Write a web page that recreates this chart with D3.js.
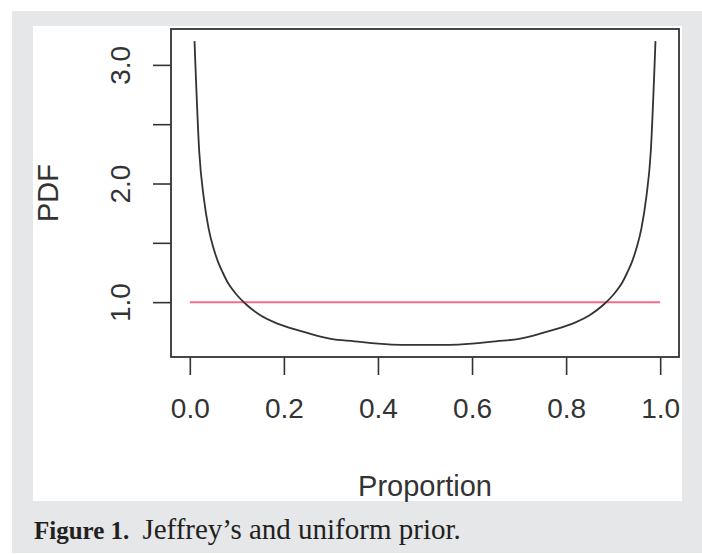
<!DOCTYPE html>
<html>
<head>
<meta charset="utf-8">
<script src="https://cdn.jsdelivr.net/npm/d3@7"></script>
<style>
    body { margin: 0; background: #fff; }
    svg { display: block; }
    .tick text { font-family: "Liberation Sans", Arial, sans-serif; }
</style>
</head>
<body>
<div id="chart"></div>
<script>
// values
let jeffreyX = [0.01, 0.02, 0.03, 0.04, 0.05, 0.06, 0.07, 0.08, 0.09, 0.10, 0.12, 0.15, 0.18, 0.20,
    0.25, 0.30, 0.35, 0.40, 0.45, 0.50, 0.55, 0.60, 0.65, 0.70, 0.75, 0.80, 0.82, 0.85, 0.88,
    0.90, 0.91, 0.92, 0.93, 0.94, 0.95, 0.96, 0.97, 0.98, 0.99];
let jeffreyY = [3.20, 2.27, 1.87, 1.62, 1.46, 1.34, 1.25, 1.17, 1.11, 1.06, 0.98, 0.89, 0.83, 0.80,
    0.74, 0.69, 0.67, 0.65, 0.64, 0.64, 0.64, 0.65, 0.67, 0.69, 0.74, 0.80, 0.83, 0.89, 0.98,
    1.06, 1.11, 1.17, 1.25, 1.34, 1.46, 1.62, 1.87, 2.27, 3.20];
let uniformX = [0, 1];
let uniformY = [1, 1];

let xTicks = [0, 0.2, 0.4, 0.6, 0.8, 1.0];
let yTicks = [1.0, 1.5, 2.0, 2.5, 3.0];
let yLabelled = [1.0, 2.0, 3.0];

let xLabel = "Proportion";
let yLabel = "PDF";
let captionBold = "Figure 1.";
let captionText = "Jeffrey\u2019s and uniform prior.";

let svgwidth = 702;
let svgheight = 554;

// plot box, R style
let box = { left: 171, top: 29, right: 679, bottom: 357 };

let svg = d3.select("#chart")
    .append("svg")
    .attr("width", svgwidth)
    .attr("height", svgheight);

// grey figure frame and white panel
svg.append("rect")
    .attr("x", 12).attr("y", 11)
    .attr("width", svgwidth - 12).attr("height", 542)
    .attr("fill", "#e6e7e9");

svg.append("rect")
    .attr("x", 33).attr("y", 26)
    .attr("width", 649).attr("height", 475)
    .attr("fill", "#ffffff");

// R pads the data range by 4% on each side
function padded(lo, hi) {
    let d = (hi - lo) * 0.04;
    return [lo - d, hi + d];
}

let allX = jeffreyX.concat(uniformX);
let allY = jeffreyY.concat(uniformY);

let xScale = d3.scaleLinear()
    .domain(padded(d3.min(allX), d3.max(allX)))
    .range([box.left, box.right]);

let yScale = d3.scaleLinear()
    .domain(padded(d3.min(allY), d3.max(allY)))
    .range([box.bottom, box.top]);

let ink = "#333";

// x axis
let xAxis = svg.append("g")
    .attr("transform", `translate(0, ${box.bottom})`)
    .call(d3.axisBottom(xScale)
        .tickValues(xTicks)
        .tickSize(18)
        .tickPadding(23)
        .tickFormat(d3.format(".1f")));

xAxis.select(".domain").remove();
xAxis.selectAll("line").attr("stroke", ink).attr("stroke-width", 1.6);
xAxis.selectAll("text")
    .attr("fill", "#333")
    .attr("font-size", 28);

// y axis
let yAxis = svg.append("g")
    .attr("transform", `translate(${box.left}, 0)`)
    .call(d3.axisLeft(yScale)
        .tickValues(yTicks)
        .tickSize(18)
        .tickFormat(d => yLabelled.includes(d) ? d3.format(".1f")(d) : ""));

yAxis.select(".domain").remove();
yAxis.selectAll("line").attr("stroke", ink).attr("stroke-width", 1.6);
yAxis.selectAll("text")
    .attr("fill", "#333")
    .attr("font-size", 28)
    .attr("text-anchor", "middle")
    .attr("dy", 0)
    .attr("x", 0)
    .attr("transform", "translate(-41, 0) rotate(-90)");

// box
svg.append("rect")
    .attr("x", box.left).attr("y", box.top)
    .attr("width", box.right - box.left)
    .attr("height", box.bottom - box.top)
    .attr("fill", "none")
    .attr("stroke", ink)
    .attr("stroke-width", 1.8);

// uniform prior
let uniformLine = d3.line()
    .x((d, i) => xScale(uniformX[i]))
    .y((d, i) => yScale(uniformY[i]));

svg.append("path")
    .datum(uniformX)
    .attr("d", uniformLine)
    .attr("fill", "none")
    .attr("stroke", "#ef6f88")
    .attr("stroke-width", 2);

// Jeffrey's prior
let jeffreyLine = d3.line()
    .x((d, i) => xScale(jeffreyX[i]))
    .y((d, i) => yScale(jeffreyY[i]))
    .curve(d3.curveMonotoneX);

svg.append("path")
    .datum(jeffreyX)
    .attr("d", jeffreyLine)
    .attr("fill", "none")
    .attr("stroke", "#333")
    .attr("stroke-width", 1.8);

// axis titles
svg.append("text")
    .attr("x", (box.left + box.right) / 2)
    .attr("y", 496)
    .attr("text-anchor", "middle")
    .attr("font-family", "Liberation Sans, Arial, sans-serif")
    .attr("font-size", 29)
    .attr("fill", "#333")
    .text(xLabel);

svg.append("text")
    .attr("transform", `translate(58, ${(box.top + box.bottom) / 2}) rotate(-90)`)
    .attr("text-anchor", "middle")
    .attr("font-family", "Liberation Sans, Arial, sans-serif")
    .attr("font-size", 29)
    .attr("fill", "#333")
    .text(yLabel);

// caption
let caption = svg.append("text")
    .attr("x", 34)
    .attr("y", 539)
    .attr("font-family", "Liberation Serif, Times New Roman, serif")
    .attr("fill", "#231f20");

caption.append("tspan")
    .attr("font-weight", "bold")
    .attr("font-size", 25)
    .text(captionBold);

caption.append("tspan")
    .attr("dx", 13)
    .attr("font-size", 29)
    .text(captionText);
</script>
</body>
</html>
